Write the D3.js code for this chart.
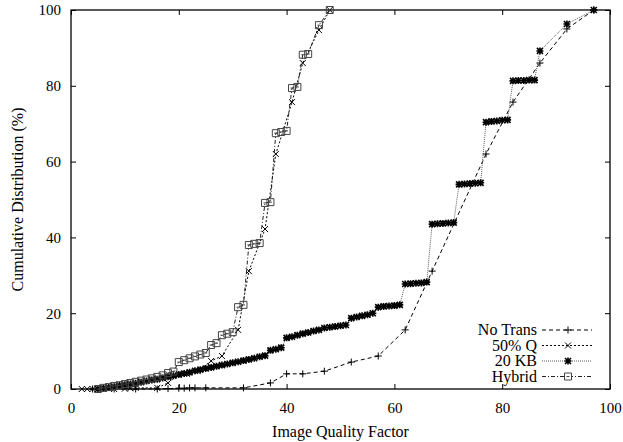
<!DOCTYPE html>
<html>
<head>
<meta charset="utf-8">
<script src="https://cdn.jsdelivr.net/npm/d3@7"></script>
<style>
  body { margin: 0; background: #fff; }
  text { font-family: "Liberation Serif", "Times New Roman", serif; fill: #000; }
</style>
</head>
<body>
<div id="chart"></div>
<script>
// series values (quality factor, cumulative %)
var noTransQ = [4, 8, 12, 16, 18, 20, 21, 22, 23, 25, 32, 37, 40, 43, 47, 52, 57, 62, 67, 77, 82, 87, 92, 97];
var noTransP = [0, 0, 0, 0, 0.1, 0.2, 0.2, 0.3, 0.3, 0.3, 0.3, 1.6, 4.0, 4.0, 4.7, 7.1, 8.7, 15.6, 31.1, 62.0, 75.7, 86.0, 95.0, 100];

var halfQ = [2, 3, 4, 6, 8, 10, 11, 12, 16, 18, 20, 21.5, 23.5, 26, 28, 31, 33, 36, 38, 41, 43, 46, 48];
var halfP = [0, 0, 0, 0, 0, 0.1, 0.2, 0.3, 0.3, 1.6, 4.0, 4.0, 4.7, 7.4, 8.7, 15.6, 31.1, 42.2, 62.0, 75.7, 86.0, 94.7, 100];

var kb20Q = [5, 6, 7, 8, 9, 10, 11, 12, 13, 14, 15, 16, 17, 18, 19, 20, 21, 22, 23, 24, 25, 26, 27, 28, 29, 30,
  31, 32, 33, 34, 35, 36, 37, 38, 39, 40, 41, 42, 43, 44, 45, 46, 47, 48, 49, 50, 51, 52, 53, 54, 55, 56,
  57, 58, 59, 60, 61, 62, 63, 64, 65, 66, 67, 68, 69, 70, 71, 72, 73, 74, 75, 76, 77, 78, 79, 80, 81,
  82, 83, 84, 85, 86, 87, 92, 97];
var kb20P = [0, 0.2, 0.4, 0.6, 0.9, 1.1, 1.3, 1.5, 1.8, 2.1, 2.4, 2.6, 2.9, 3.2, 3.5, 3.8, 4.1, 4.4, 4.8, 5.1, 5.4, 5.7, 6.0, 6.3, 6.6, 6.9,
  7.2, 7.5, 7.8, 8.1, 8.5, 8.8, 10.2, 10.5, 10.9, 13.5, 13.8, 14.2, 14.6, 14.9, 15.3, 15.6, 16.1, 16.3, 16.5, 16.7, 16.9, 18.7, 19.0, 19.3, 19.6, 20.0,
  21.6, 21.8, 21.9, 22.0, 22.2, 27.7, 27.8, 27.9, 28.0, 28.2, 43.5, 43.6, 43.7, 43.8, 43.9, 54.0, 54.1, 54.2, 54.3, 54.4, 70.4, 70.6, 70.7, 70.9, 71.0,
  81.3, 81.4, 81.4, 81.5, 81.5, 89.2, 96.3, 100];

var hybridQ = [5, 6, 7, 8, 9, 10, 11, 12, 13, 14, 15, 16, 17, 18, 19, 20, 21, 22, 23, 24, 25, 26, 27, 28, 29, 30,
  31, 32, 33, 34, 35, 36, 37, 38, 39, 40, 41, 42, 43, 44, 46, 48];
var hybridP = [0, 0.3, 0.5, 0.8, 1.0, 1.3, 1.6, 1.9, 2.2, 2.5, 2.8, 3.2, 3.6, 4.2, 4.6, 7.1, 7.6, 8.1, 8.6, 9.1, 9.5, 11.6, 12.1, 14.2, 14.6, 15.0,
  21.6, 22.2, 38.0, 38.3, 38.5, 49.1, 49.3, 67.5, 67.8, 68.1, 79.4, 79.7, 88.2, 88.4, 96.0, 100];

var seriesNames = ["No Trans", "50% Q", "20 KB", "Hybrid"];
var tickValues = [0, 20, 40, 60, 80, 100];

// svg container
var svgWidth = 623;
var svgHeight = 442;
var margin = { top: 10, right: 13, bottom: 53, left: 71 };
var chartWidth = svgWidth - margin.left - margin.right;
var chartHeight = svgHeight - margin.top - margin.bottom;

var svg = d3.select("#chart").append("svg")
  .attr("width", svgWidth)
  .attr("height", svgHeight);

var chartGroup = svg.append("g")
  .attr("transform", `translate(${margin.left}, ${margin.top})`);

var xScale = d3.scaleLinear().domain([0, 100]).range([0, chartWidth]);
var yScale = d3.scaleLinear().domain([0, 100]).range([chartHeight, 0]);

// ticks on all four sides, pointing in
function styleAxis(g) {
  g.select(".domain").remove();
  g.selectAll(".tick line").attr("stroke", "#000").attr("stroke-width", 1);
  g.selectAll(".tick text").attr("font-size", "15px")
    .attr("font-family", "'Liberation Serif', serif");
}

chartGroup.append("g")
  .attr("transform", `translate(0, ${chartHeight})`)
  .call(d3.axisBottom(xScale).tickValues(tickValues).tickSize(-5).tickPadding(13))
  .call(styleAxis);

chartGroup.append("g")
  .call(d3.axisTop(xScale).tickValues(tickValues).tickSize(-5).tickFormat(""))
  .call(styleAxis);

chartGroup.append("g")
  .call(d3.axisLeft(yScale).tickValues(tickValues).tickSize(-5).tickPadding(10))
  .call(styleAxis);

chartGroup.append("g")
  .attr("transform", `translate(${chartWidth}, 0)`)
  .call(d3.axisRight(yScale).tickValues(tickValues).tickSize(-5).tickFormat(""))
  .call(styleAxis);

// frame
chartGroup.append("rect")
  .attr("width", chartWidth)
  .attr("height", chartHeight)
  .attr("fill", "none")
  .attr("stroke", "#000")
  .attr("stroke-width", 1.3);

// marker shapes
var markerPaths = {
  plus: "M-3.5,0H3.5M0,-3.5V3.5",
  cross: "M-3,-3L3,3M-3,3L3,-3",
  star: "M-3.5,0H3.5M0,-3.5V3.5M-3,-3L3,3M-3,3L3,-3",
  square: "M-3.5,-3.5H3.5V3.5H-3.5Z M-1.5,0H1.5"
};

var series = [
  { name: seriesNames[0], q: noTransQ, p: noTransP, dash: "4,3", marker: "plus", color: "#000", width: 1, mw: 1 },
  { name: seriesNames[1], q: halfQ, p: halfP, dash: "2,2", marker: "cross", color: "#000", width: 1, mw: 1 },
  { name: seriesNames[2], q: kb20Q, p: kb20P, dash: "1,1", marker: "star", color: "#333", width: 0.8, mw: 1.6 },
  { name: seriesNames[3], q: hybridQ, p: hybridP, dash: "4,2,1,2", marker: "square", color: "#222", width: 1, mw: 1 }
];

var line = d3.line()
  .x(d => xScale(d[0]))
  .y(d => yScale(d[1]));

series.forEach(function(s) {
  var pts = s.q.map((q, i) => [q, s.p[i]]);
  chartGroup.append("path")
    .datum(pts)
    .attr("d", line)
    .attr("fill", "none")
    .attr("stroke", s.color)
    .attr("stroke-width", s.width)
    .attr("stroke-dasharray", s.dash);

  chartGroup.selectAll(".m-" + s.marker)
    .data(pts)
    .enter()
    .append("path")
    .attr("class", "m-" + s.marker)
    .attr("transform", d => `translate(${xScale(d[0])}, ${yScale(d[1])})`)
    .attr("d", markerPaths[s.marker])
    .attr("fill", "none")
    .attr("stroke", s.marker == "square" ? "#444" : "#000")
    .attr("stroke-width", s.mw);
});

// legend
var legend = svg.append("g");
series.forEach(function(s, i) {
  var ly = 330 + i * 15.5;
  legend.append("text")
    .attr("x", 537)
    .attr("y", ly + 5)
    .attr("text-anchor", "end")
    .attr("font-size", "16px")
    .text(s.name);
  legend.append("line")
    .attr("x1", 542).attr("x2", 592)
    .attr("y1", ly).attr("y2", ly)
    .attr("stroke", s.color)
    .attr("stroke-width", s.width)
    .attr("stroke-dasharray", s.dash);
  legend.append("path")
    .attr("transform", `translate(568, ${ly})`)
    .attr("d", markerPaths[s.marker])
    .attr("fill", "#fff")
    .attr("stroke", s.marker == "square" ? "#444" : "#000")
    .attr("stroke-width", s.mw);
});

// axis labels
svg.append("text")
  .attr("transform", "rotate(-90)")
  .attr("x", -(margin.top + chartHeight / 2))
  .attr("y", 23)
  .attr("text-anchor", "middle")
  .attr("font-size", "16px")
  .text("Cumulative Distribution (%)");

svg.append("text")
  .attr("x", margin.left + chartWidth / 2)
  .attr("y", 437)
  .attr("text-anchor", "middle")
  .attr("font-size", "16px")
  .text("Image Quality Factor");
</script>
</body>
</html>
